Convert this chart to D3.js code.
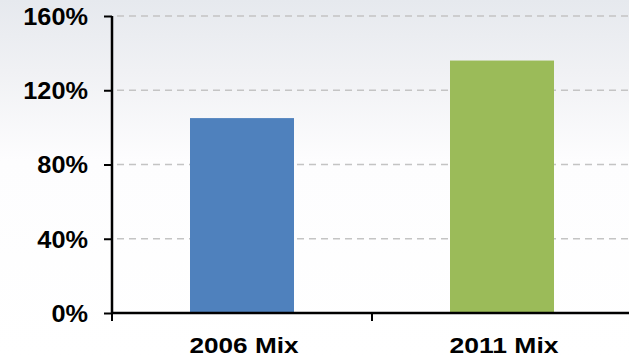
<!DOCTYPE html>
<html><head><meta charset="utf-8">
<script src="https://cdn.jsdelivr.net/npm/d3@7"></script>
<style>html,body{margin:0;padding:0;background:#fff;overflow:hidden}</style>
</head><body>
<svg id="c" width="629" height="357"></svg>
<script>
const categories = ["2006 Mix", "2011 Mix"];
const values = [105, 136];
const colors = ["#4f81bd", "#9bbb59"];
const yTicks = [0, 40, 80, 120, 160];

const W = 629, H = 357;
const svg = d3.select("#c");
const defs = svg.append("defs");
const g = defs.append("linearGradient").attr("id","bg").attr("x1",0).attr("y1",0).attr("x2",0).attr("y2",1);
g.append("stop").attr("offset","0%").attr("stop-color","#e6e9ee");
g.append("stop").attr("offset","20%").attr("stop-color","#f0f1f4");
g.append("stop").attr("offset","45%").attr("stop-color","#fdfdfe");
g.append("stop").attr("offset","100%").attr("stop-color","#ffffff");
svg.append("rect").attr("width",W).attr("height",H).attr("fill","url(#bg)");

const x = d3.scaleBand().domain(categories).range([112, 632]).paddingInner(0.6).paddingOuter(0.3);
const xb = d3.scaleBand().domain(categories).range([112, 632]).padding(0);
const y = d3.scaleLinear().domain([0, 160]).range([313, 16]);

// gridlines
svg.append("g").selectAll("line").data(yTicks.filter(d => d > 0)).join("line")
  .attr("x1", 117).attr("x2", W).attr("y1", d => y(d)).attr("y2", d => y(d))
  .attr("stroke", "#c4c4c4").attr("stroke-width", 1.5).attr("stroke-dasharray", "7,5");

// bars
svg.append("g").selectAll("rect").data(categories).join("rect")
  .attr("x", d => x(d)).attr("width", x.bandwidth())
  .attr("y", (d, i) => y(values[i])).attr("height", (d, i) => y(0) - y(values[i]))
  .attr("fill", (d, i) => colors[i]);

// y axis
const ya = svg.append("g").attr("transform", "translate(112,0)")
  .call(d3.axisLeft(y).tickValues(yTicks).tickSize(8).tickPadding(0).tickFormat(d => d + "%"));
ya.select(".domain").remove();
ya.append("line").attr("x1",0).attr("x2",0).attr("y1",y(160)).attr("y2",y(0)+1).attr("stroke","#000").attr("stroke-width",2.5);
ya.selectAll(".tick line").attr("stroke","#000").attr("stroke-width",2);
ya.selectAll(".tick text").attr("x", -24).attr("dy", "0.36em")
  .attr("font-family","Liberation Sans, Arial, sans-serif").attr("font-weight","bold")
  .attr("font-size","23px").attr("fill","#000")
  .each(function(d){ const t=d3.select(this); const w=this.getComputedTextLength(); t.attr("textLength", w*1.1).attr("lengthAdjust","spacingAndGlyphs"); });

// x axis
const xa = svg.append("g").attr("transform", "translate(0,313)");
xa.append("line").attr("x1",111).attr("x2",W).attr("y1",0).attr("y2",0).attr("stroke","#000").attr("stroke-width",2.5);
const xt = [xb.range()[0], ...categories.slice(1).map(c => xb(c)), xb.range()[1]];
xa.selectAll("line.t").data(xt).join("line").attr("class","t")
  .attr("x1", d => d).attr("x2", d => d).attr("y1", 0).attr("y2", 8).attr("stroke","#000").attr("stroke-width",2);
xa.selectAll("text").data(categories).join("text")
  .attr("x", d => x(d) + x.bandwidth()/2 + 2).attr("y", 40)
  .attr("text-anchor","middle")
  .attr("font-family","Liberation Sans, Arial, sans-serif").attr("font-weight","bold")
  .attr("font-size","22px").attr("fill","#000")
  .text(d => d)
  .attr("textLength", 109).attr("lengthAdjust","spacingAndGlyphs");
</script>
</body></html>
